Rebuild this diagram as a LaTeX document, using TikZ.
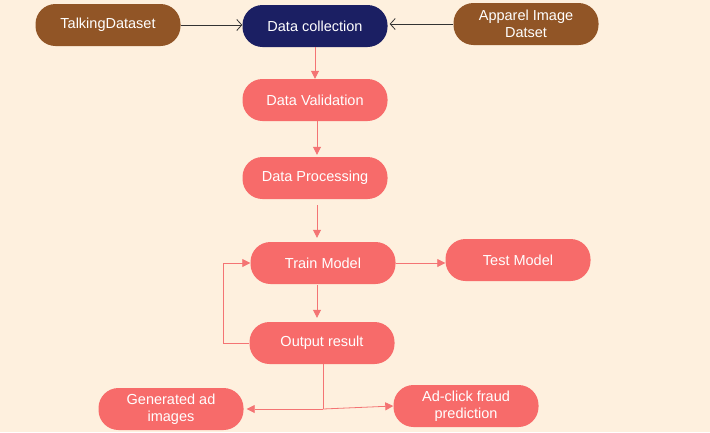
\documentclass[tikz,border=0pt]{standalone}
\usepackage{fontspec}
\setmainfont{Liberation Sans}
\usetikzlibrary{arrows.meta}
\definecolor{bg}{HTML}{FEF0DE}
\definecolor{brownbox}{HTML}{915526}
\definecolor{navybox}{HTML}{1B1F63}
\definecolor{salmon}{HTML}{F76B6A}
\definecolor{salline}{HTML}{F47474}
\definecolor{darkline}{HTML}{333333}
\begin{document}
\begin{tikzpicture}[x=1pt,y=-1pt,
  pill/.style={rounded corners=20pt, minimum width=145pt, minimum height=42pt, inner sep=2pt,
    text=white, align=center, font=\fontsize{14.5}{16.5}\selectfont},
  brownpill/.style={pill, fill=brownbox},
  navypill/.style={pill, fill=navybox},
  salpill/.style={pill, fill=salmon},
  blackarrow/.style={draw=darkline, line width=0.8pt, -{Straight Barb[length=5pt,width=11pt]}},
  salarrow/.style={draw=salline, line width=0.8pt, -{Triangle[length=8pt,width=8pt]}},
  salline/.style={draw=salline, line width=0.8pt}]
\fill[bg] (0,0) rectangle (710,432);
\useasboundingbox (0,0) rectangle (710,432);

\node[brownpill] (talk) at (108,25) {TalkingDataset};
\node[navypill] (coll) at (315,26) {Data collection};
\node[brownpill] (app) at (526,24) {Apparel Image\\Datset};
\node[salpill] (val) at (315,100) {Data Validation};
\node[salpill] (proc) at (315,178) {Data Processing};
\node[salpill] (train) at (323,263) {Train Model};
\node[salpill] (test) at (518,260) {Test Model};
\node[salpill] (out) at (322,343) {Output result};
\node[salpill] (gen) at (171,409) {Generated ad\\images};
\node[salpill] (ad) at (466,406) {Ad-click fraud\\prediction};

\coordinate (split) at (323,409);
\coordinate (loopb) at (223,343);
\coordinate (loopt) at (223,263);

\draw[blackarrow] (talk.east) -- (coll.west |- talk.east);
\draw[blackarrow] (app.west) -- ([xshift=2pt]coll.east |- app.west);
\draw[salarrow] (coll.south) -- (val.north);
\draw[salarrow] ([xshift=2pt]val.south) -- ([xshift=2pt,yshift=2pt]proc.north);
\draw[salarrow] ([xshift=2pt,yshift=-6pt]proc.south) -- ([xshift=-6pt,yshift=4pt]train.north);
\draw[salarrow] (train.east) -- (test.west |- train.east);
\draw[salarrow] ([xshift=-6pt,yshift=-1pt]train.south) -- ([xshift=-5pt,yshift=4pt]out.north);
\draw[salarrow] (out.west) -- (loopb) -- (loopt) -- (train.west);
\draw[salline] (out.south -| split) -- (split);
\draw[salarrow] (split) -- ([xshift=3pt]gen.east);
\draw[salarrow] (split) -- (ad.west);
\end{tikzpicture}
\end{document}
